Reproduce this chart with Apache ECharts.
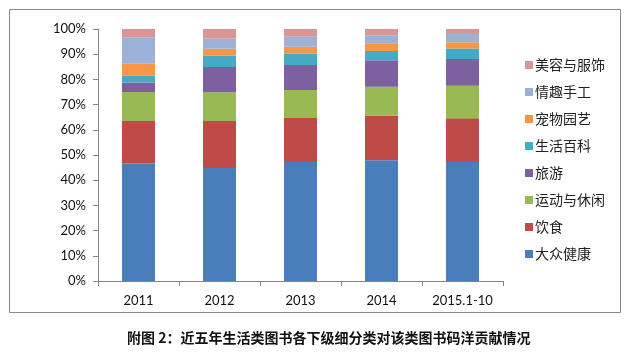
<!DOCTYPE html>
<html><head><meta charset="utf-8">
<script src="https://cdn.jsdelivr.net/npm/echarts@6/dist/echarts.min.js"></script>
<style>html,body{margin:0;padding:0;background:#fff}#c{width:630px;height:355px}</style>
</head><body><div id="c"></div>
<script>
const categories = ['2011', '2012', '2013', '2014', '2015.1-10'];
const seriesNames = ['大众健康', '饮食', '运动与休闲', '旅游', '生活百科', '宠物园艺', '情趣手工', '美容与服饰'];
const health   = [46.6, 44.8, 47.2, 47.9, 47.2];
const food     = [16.9, 18.7, 17.5, 17.7, 17.4];
const sport    = [11.5, 11.4, 11.1, 11.5, 12.9];
const travel   = [3.8, 10.0, 9.9, 10.5, 10.6];
const lifeWiki = [2.7, 4.5, 4.5, 3.7, 4.2];
const petGarden= [4.7, 2.8, 2.8, 3.0, 2.4];
const craft    = [10.5, 4.0, 3.9, 3.2, 3.3];
const beauty   = [3.3, 3.8, 3.1, 2.5, 2.0];
const yTicks = [0, 10, 20, 30, 40, 50, 60, 70, 80, 90, 100];
const title = '附图 2：近五年生活类图书各下级细分类对该类图书码洋贡献情况';

const values = [health, food, sport, travel, lifeWiki, petGarden, craft, beauty];
const colors = ['#4A7EBB', '#BE4B48', '#98B954', '#7D60A0', '#46AAC5', '#F79646', '#9CB1D8', '#DA9694'];
const font = "Lato, 'Noto Sans CJK SC', sans-serif";

const chart = echarts.init(document.getElementById('c'), null, {renderer: 'canvas'});
chart.setOption({
  animation: false,
  textStyle: {fontFamily: font},
  grid: {left: 98, right: 127, top: 29, bottom: 74, containLabel: false},
  legend: {
    orient: 'vertical', left: 520, top: 53,
    data: seriesNames.slice().reverse(),
    itemWidth: 8, itemHeight: 8, itemGap: 13,
    icon: 'rect',
    textStyle: {fontSize: 14, color: '#222', fontFamily: "'Noto Sans CJK SC', sans-serif", padding: [0, 0, 0, -3]}
  },
  xAxis: {
    type: 'category', data: categories,
    axisLine: {lineStyle: {color: '#868686'}},
    axisTick: {show: true, alignWithLabel: false, length: 5, lineStyle: {color: '#868686'}},
    axisLabel: {color: '#111', fontSize: 13, margin: 13}
  },
  yAxis: {
    type: 'value', min: yTicks[0], max: yTicks[yTicks.length - 1], interval: 10,
    axisLine: {show: true, lineStyle: {color: '#868686'}},
    axisTick: {show: true, inside: false, length: 5, lineStyle: {color: '#868686'}},
    splitLine: {show: false},
    axisLabel: {color: '#111', fontSize: 13, margin: 12, formatter: '{value}%'}
  },
  series: seriesNames.map((n, i) => ({
    name: n, type: 'bar', stack: 'total', data: values[i], barWidth: 33,
    itemStyle: {color: colors[i]}
  })),
  graphic: [
    {type: 'rect', shape: {x: 9.5, y: 9.5, width: 611, height: 303}, style: {fill: 'none', stroke: '#8a8a8a', lineWidth: 1}, silent: true},
    {type: 'text', left: 127, top: 331, style: {text: title, font: "bold 14px 'Noto Sans CJK SC', sans-serif", fill: '#111'}}
  ]
});
</script>
</body></html>
